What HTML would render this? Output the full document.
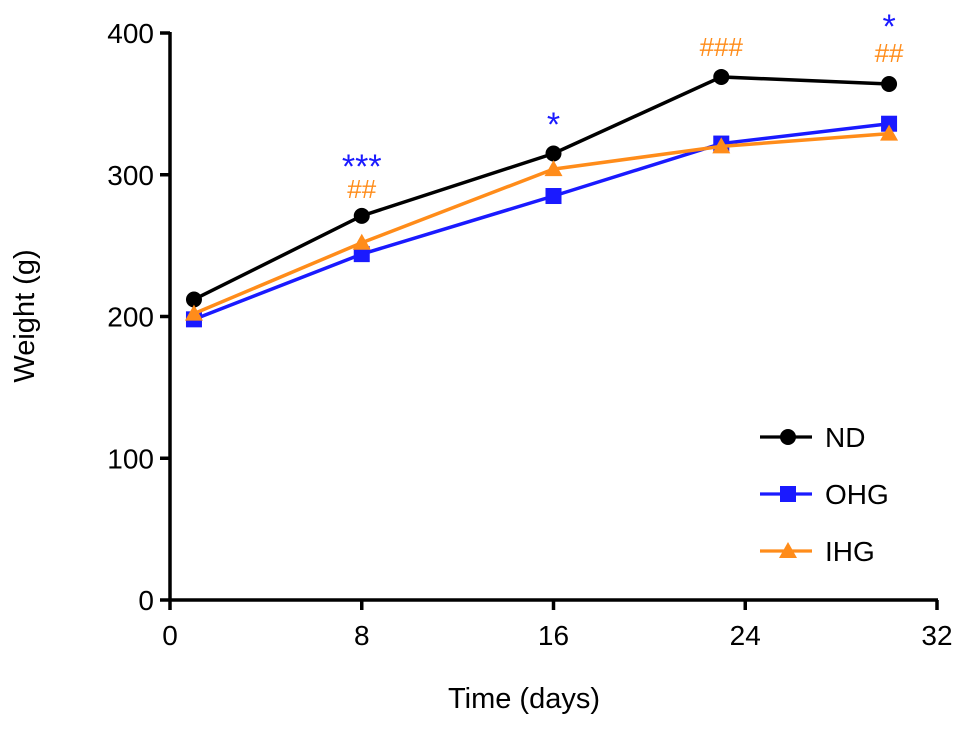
<!DOCTYPE html>
<html><head><meta charset="utf-8"><style>
body{margin:0;background:#fff}
svg text{font-family:"Liberation Sans",Arial,sans-serif}
</style></head><body>
<svg id="chart" width="969" height="746">
<g id="axes"></g><g id="series"></g><g id="annots"></g><g id="legend"></g>
</svg>
<script>
const days = [1, 8, 16, 23, 30];
const ndValues = [212, 271, 315, 369, 364];
const ohgValues = [198, 244, 285, 322, 336];
const ihgValues = [202, 252, 304, 320, 329];
const xTicks = [0, 8, 16, 24, 32];
const yTicks = [0, 100, 200, 300, 400];
const seriesNames = ["ND", "OHG", "IHG"];

const NS = "http://www.w3.org/2000/svg";
const x0 = 170, x1 = 937, y0 = 600, y1 = 33;
const xs = v => x0 + (v - 0) / 32 * (x1 - x0);
const ys = v => y0 - v / 400 * (y0 - y1);
function mk(tag, attrs, parent, txt) {
  const e = document.createElementNS(NS, tag);
  for (const k in attrs) e.setAttribute(k, attrs[k]);
  if (txt !== undefined) e.textContent = txt;
  parent.appendChild(e);
  return e;
}
const axes = document.getElementById('axes');
let e;
e = mk('line', {x1: x0, y1: y0, x2: x1 + 1, y2: y0, stroke: '#000', 'stroke-width': 3.5}, axes);


e = mk('line', {x1: x0, y1: y1 - 1, x2: x0, y2: y0 + 1, stroke: '#000', 'stroke-width': 3.5}, axes);


xTicks.forEach(t => {
  mk('line', {x1: xs(t), y1: y0, x2: xs(t), y2: y0 + 10, stroke: '#000', 'stroke-width': 3.5}, axes);
  e = mk('text', {x: xs(t), y: y0 + 45, 'text-anchor': 'middle', 'font-size': 28}, axes, t);
  
  
});
yTicks.forEach(t => {
  mk('line', {x1: x0 - 10, y1: ys(t), x2: x0, y2: ys(t), stroke: '#000', 'stroke-width': 3.5}, axes);
  e = mk('text', {x: x0 - 16, y: ys(t) + 10, 'text-anchor': 'end', 'font-size': 28}, axes, t);
  
  
});
e = mk('text', {x: 524, y: 708, 'text-anchor': 'middle', 'font-size': 29}, axes, 'Time (days)');


e = mk('text', {x: 34, y: 316, 'text-anchor': 'middle', 'font-size': 29, transform: 'rotate(-90 34 316)'}, axes, 'Weight (g)');



function marker(type, cx, cy, color, parent) {
  if (type === 'circle') return mk('circle', {cx, cy, r: 8, fill: color}, parent);
  if (type === 'square') return mk('rect', {x: cx - 8, y: cy - 8, width: 16, height: 16, fill: color}, parent);
  return mk('polygon', {points: `${cx},${cy - 9} ${cx + 9},${cy + 7} ${cx - 9},${cy + 7}`, fill: color}, parent);
}
const ser = document.getElementById('series');
const defs = [[ndValues, '#000', 'circle'], [ohgValues, '#1a1aff', 'square'], [ihgValues, '#ff8c1a', 'triangle']];
defs.forEach(([vals, col, m], i) => {
  const g = mk('g', {}, ser);
  
  
  mk('polyline', {points: vals.map((v, j) => xs(days[j]) + ',' + ys(v)).join(' '), fill: 'none', stroke: col, 'stroke-width': 3.5}, g);
  vals.forEach((v, j) => {
    const p = marker(m, xs(days[j]), ys(v), col, g);
    
    
  });
});

const an = document.getElementById('annots');
const annots = [[8, 178, '***', '#1a1aff'], [8, 198, '##', '#ff8c1a'], [16, 136, '*', '#1a1aff'], [23, 56, '###', '#ff8c1a'], [30, 38, '*', '#1a1aff'], [30, 62, '##', '#ff8c1a']];
annots.forEach(([d, y, t, c]) => {
  e = mk('text', {x: xs(d), y, 'text-anchor': 'middle', 'font-size': t.startsWith('*') ? 34 : 26, fill: c}, an, t);
  
  
});

const lg = document.getElementById('legend');
defs.forEach(([vals, col, m], i) => {
  const y = 437 + i * 57;
  const g = mk('g', {}, lg);
  
  
  mk('line', {x1: 760, y1: y, x2: 812, y2: y, stroke: col, 'stroke-width': 3.2}, g);
  marker(m, 788, y, col, g);
  mk('text', {x: 825, y: y + 10, 'font-size': 28}, g, seriesNames[i]);
});
</script>
</body></html>
